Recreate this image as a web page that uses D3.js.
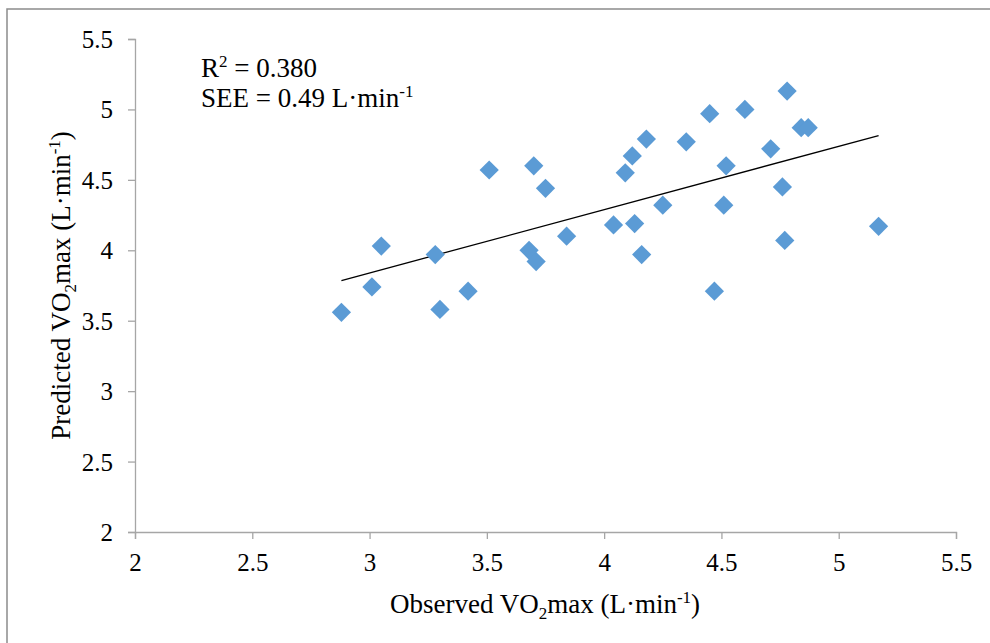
<!DOCTYPE html>
<html>
<head>
<meta charset="utf-8">
<script src="https://cdn.jsdelivr.net/npm/d3@7"></script>
<style>
  body { margin: 0; background: #fff; }
  text { font-family: "Liberation Serif", "Times New Roman", serif; fill: #000; }
</style>
</head>
<body>
<div class="chart"></div>
<script>
// observed VO2max (L/min)
const observed = [2.88, 3.01, 3.05, 3.28, 3.30, 3.42, 3.51, 3.68, 3.70, 3.71,
  3.75, 3.84, 4.04, 4.09, 4.12, 4.13, 4.16, 4.18, 4.25, 4.35,
  4.45, 4.47, 4.51, 4.52, 4.60, 4.71, 4.76, 4.77, 4.78, 4.84,
  4.87, 5.17];
// predicted VO2max (L/min)
const predicted = [3.56, 3.74, 4.03, 3.97, 3.58, 3.71, 4.57, 4.00, 4.60, 3.92,
  4.44, 4.10, 4.18, 4.55, 4.67, 4.19, 3.97, 4.79, 4.32, 4.77,
  4.97, 3.71, 4.32, 4.60, 5.00, 4.72, 4.45, 4.07, 5.13, 4.87,
  4.87, 4.17];
const xTicks = [2, 2.5, 3, 3.5, 4, 4.5, 5, 5.5];
const yTicks = [2, 2.5, 3, 3.5, 4, 4.5, 5, 5.5];

const width = 990, height = 643;
const mLeft = 135, mRight = 956, mTop = 39, mBottom = 532;
const serif = '"Liberation Serif", "Times New Roman", serif';

const svg = d3.select('.chart').append('svg')
  .attr('width', width)
  .attr('height', height);

// outer frame
svg.append('rect')
  .attr('x', 7).attr('y', 9)
  .attr('width', 990).attr('height', 700)
  .attr('fill', 'none')
  .attr('stroke', '#8c8c8c')
  .attr('stroke-width', 1.5);

const x = d3.scaleLinear().domain([2, 5.5]).range([mLeft, mRight]);
const y = d3.scaleLinear().domain([2, 5.5]).range([mBottom, mTop]);

const xAxis = svg.append('g')
  .attr('transform', 'translate(0,' + mBottom + ')')
  .call(d3.axisBottom(x).tickValues(xTicks).tickSize(7).tickPadding(14).tickFormat(d3.format('')));
const yAxis = svg.append('g')
  .attr('transform', 'translate(' + mLeft + ',0)')
  .call(d3.axisLeft(y).tickValues(yTicks).tickSize(7).tickPadding(15).tickFormat(d3.format('')));

[xAxis, yAxis].forEach(function(g) {
  g.attr('font-family', serif).attr('font-size', 25);
  g.select('.domain').attr('stroke', '#a6a6a6').attr('stroke-width', 1.3);
  g.selectAll('.tick line').attr('stroke', '#a6a6a6').attr('stroke-width', 1.3);
  g.selectAll('.tick text').attr('fill', '#000');
});
yAxis.selectAll('.tick text').attr('dy', '0.34em');

// linear trend line from the data
const pts = observed.map(function(d, i) { return [d, predicted[i]]; });
const mx = d3.mean(observed), my = d3.mean(predicted);
const slope = d3.sum(pts, function(p) { return (p[0] - mx) * (p[1] - my); }) /
  d3.sum(pts, function(p) { return (p[0] - mx) * (p[0] - mx); });
const icpt = my - slope * mx;
const xr = d3.extent(observed);

svg.append('line')
  .attr('x1', x(xr[0])).attr('y1', y(icpt + slope * xr[0]))
  .attr('x2', x(xr[1])).attr('y2', y(icpt + slope * xr[1]))
  .attr('stroke', '#000')
  .attr('stroke-width', 1.3);

// diamond markers
const diamond = d3.symbol().type(d3.symbolSquare).size(185);
svg.selectAll('.pt')
  .data(pts)
  .enter()
  .append('path')
  .attr('class', 'pt')
  .attr('d', diamond)
  .attr('transform', function(d) { return 'translate(' + x(d[0]) + ',' + y(d[1]) + ') rotate(45)'; })
  .attr('fill', '#5b9bd5');

// annotation
const ann = svg.append('text').attr('x', 201).attr('y', 77).style('font-size', '27px');
ann.append('tspan').text('R');
ann.append('tspan').attr('dy', -10).style('font-size', '17px').text('2');
ann.append('tspan').attr('dy', 10).text(' = 0.380');

const see = svg.append('text').attr('x', 201).attr('y', 107).style('font-size', '27px');
see.append('tspan').text('SEE = 0.49 L·min');
see.append('tspan').attr('dy', -10).style('font-size', '17px').text('-1');

// x axis title
const xt = svg.append('text')
  .attr('x', 545).attr('y', 613)
  .attr('text-anchor', 'middle')
  .style('font-size', '27px');
xt.append('tspan').text('Observed VO');
xt.append('tspan').attr('dy', 6).style('font-size', '17px').text('2');
xt.append('tspan').attr('dy', -6).text('max (L·min');
xt.append('tspan').attr('dy', -10).style('font-size', '17px').text('-1');
xt.append('tspan').attr('dy', 10).text(')');

// y axis title
const yt = svg.append('text')
  .attr('transform', 'translate(70,' + ((mTop + mBottom) / 2) + ') rotate(-90)')
  .attr('text-anchor', 'middle')
  .style('font-size', '27px');
yt.append('tspan').text('Predicted VO');
yt.append('tspan').attr('dy', 6).style('font-size', '17px').text('2');
yt.append('tspan').attr('dy', -6).text('max (L·min');
yt.append('tspan').attr('dy', -10).style('font-size', '17px').text('-1');
yt.append('tspan').attr('dy', 10).text(')');
</script>
</body>
</html>
